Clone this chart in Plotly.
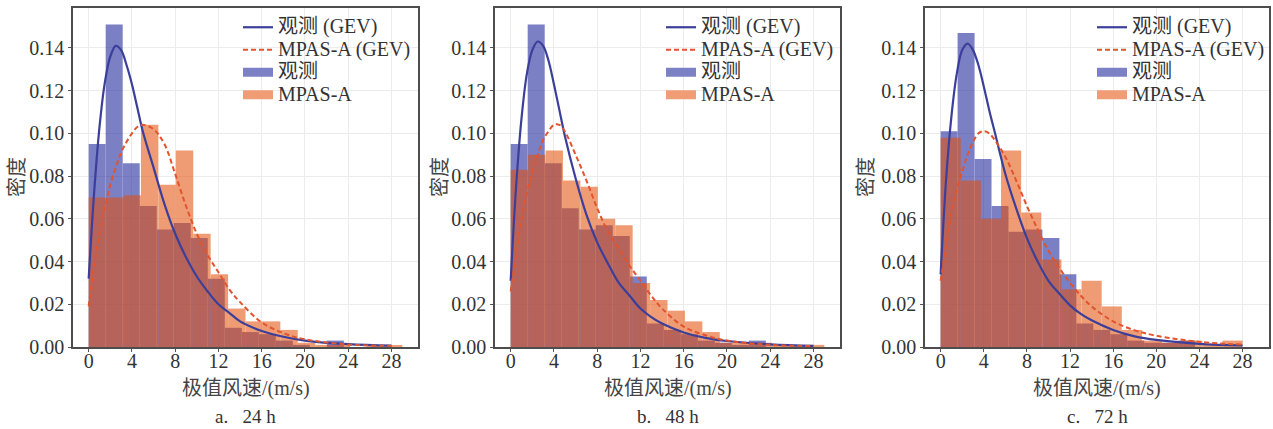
import numpy as np
import plotly.graph_objects as go

# ---------------- data ----------------
panel_captions = ["a.   24 h", "b.   48 h", "c.   72 h"]
x_ticks = [0, 4, 8, 12, 16, 20, 24, 28]
y_ticks = [0.00, 0.02, 0.04, 0.06, 0.08, 0.10, 0.12, 0.14]

# histogram bin widths (m/s)
obs_bin_width = [1.573, 1.573, 1.573]
mpas_bin_width = [29.0 / 18, 29.0 / 18, 28.0 / 15]

# observed densities (观测)
obs_density_a = [0.095, 0.151, 0.086, 0.066, 0.055, 0.058, 0.051, 0.032, 0.009, 0.007, 0.006, 0.003, 0.001, 0.000, 0.003]
obs_density_b = [0.095, 0.151, 0.086, 0.065, 0.055, 0.057, 0.052, 0.033, 0.011, 0.008, 0.006, 0.003, 0.002, 0.001, 0.003]
obs_density_c = [0.101, 0.147, 0.088, 0.066, 0.054, 0.055, 0.051, 0.034, 0.011, 0.008, 0.006, 0.003, 0.002, 0.002, 0.003]

# MPAS-A densities
mpas_density_a = [0.070, 0.070, 0.071, 0.104, 0.076, 0.092, 0.053, 0.034, 0.018, 0.012, 0.012, 0.008, 0.002, 0.001, 0.001, 0.000, 0.0005, 0.0005]
mpas_density_b = [0.083, 0.090, 0.092, 0.078, 0.075, 0.060, 0.057, 0.030, 0.022, 0.017, 0.012, 0.007, 0.002, 0.002, 0.002, 0.001, 0.001, 0.001]
mpas_density_c = [0.098, 0.078, 0.060, 0.092, 0.063, 0.041, 0.027, 0.031, 0.019, 0.008, 0.003, 0.002, 0.003, 0.001, 0.003]

# GEV fitted curves
gev_x = [0, 0.5, 1, 1.5, 2, 2.5, 3, 3.5, 4, 4.5, 5, 6, 7, 8, 9, 10, 11, 12, 13, 14, 16, 18, 20, 24, 28]
gev_obs_a = [0.032, 0.072, 0.103, 0.124, 0.136, 0.141, 0.139, 0.132, 0.123, 0.112, 0.101, 0.084, 0.067, 0.053, 0.042, 0.033, 0.026, 0.020, 0.016, 0.012, 0.0075, 0.0048, 0.0030, 0.0013, 0.0006]
gev_mpas_a = [0.019, 0.038, 0.053, 0.065, 0.076, 0.084, 0.091, 0.096, 0.100, 0.103, 0.104, 0.102, 0.095, 0.081, 0.066, 0.053, 0.043, 0.035, 0.027, 0.021, 0.0115, 0.0065, 0.0036, 0.0012, 0.0005]
gev_obs_b = [0.031, 0.075, 0.107, 0.128, 0.139, 0.143, 0.141, 0.134, 0.123, 0.111, 0.099, 0.079, 0.062, 0.049, 0.039, 0.030, 0.024, 0.018, 0.014, 0.011, 0.0068, 0.0043, 0.0028, 0.0012, 0.0005]
gev_mpas_b = [0.026, 0.043, 0.060, 0.072, 0.082, 0.090, 0.097, 0.101, 0.104, 0.104, 0.101, 0.090, 0.078, 0.065, 0.054, 0.046, 0.038, 0.031, 0.024, 0.018, 0.0095, 0.0055, 0.0030, 0.0010, 0.0004]
gev_obs_c = [0.034, 0.078, 0.108, 0.128, 0.139, 0.142, 0.139, 0.132, 0.122, 0.111, 0.101, 0.081, 0.065, 0.051, 0.040, 0.031, 0.025, 0.0195, 0.0155, 0.0125, 0.008, 0.005, 0.0033, 0.0015, 0.0007]
gev_mpas_c = [0.031, 0.047, 0.063, 0.074, 0.082, 0.090, 0.096, 0.100, 0.101, 0.100, 0.097, 0.089, 0.078, 0.066, 0.055, 0.045, 0.037, 0.030, 0.024, 0.019, 0.012, 0.0078, 0.0053, 0.0024, 0.0011]

obs_density = [obs_density_a, obs_density_b, obs_density_c]
mpas_density = [mpas_density_a, mpas_density_b, mpas_density_c]
gev_obs = [gev_obs_a, gev_obs_b, gev_obs_c]
gev_mpas = [gev_mpas_a, gev_mpas_b, gev_mpas_c]

legend_names = ["观测 (GEV)", "MPAS-A (GEV)", "观测", "MPAS-A"]

# ---------------- style ----------------
W, H = 1273, 429
FONT = "Liberation Serif, 'Noto Sans CJK SC', serif"
BLUE_BAR = "rgb(37,43,157)"
ORANGE_BAR = "rgb(228,80,10)"
BLUE_LINE = "#3b3f99"
ORANGE_LINE = "#e0542e"
TEXT = "#333333"

ax_px = [(73, 418), (495, 840), (925, 1269)]
top_px, bot_px = 8, 347
legend_px = [238, 661, 1092]
ylabel_px = [17, 440, 866]


def big(s):
    return '<span style="font-size:20px">' + s + '</span>'


fig = go.Figure()
layout = dict(
    width=W, height=H, margin=dict(l=0, r=0, t=0, b=0, autoexpand=False),
    paper_bgcolor="white", plot_bgcolor="white",
    barmode="overlay", font=dict(family=FONT, size=19, color=TEXT),
    showlegend=True, annotations=[],
)

for i in range(3):
    sfx = "" if i == 0 else str(i + 1)
    xa, ya = "x" + sfx, "y" + sfx
    lg = "legend" + sfx
    ob = obs_bin_width[i]
    mb = mpas_bin_width[i]
    obs_left = np.arange(len(obs_density[i])) * ob
    mpas_left = np.arange(len(mpas_density[i])) * mb

    fig.add_trace(go.Bar(x=obs_left, y=obs_density[i], width=ob, offset=0,
                         marker=dict(color=BLUE_BAR, line=dict(width=0)), opacity=0.6,
                         xaxis=xa, yaxis=ya, legend=lg, legendgroup=f"obs{i}",
                         showlegend=False, name=legend_names[2]))
    fig.add_trace(go.Bar(x=mpas_left, y=mpas_density[i], width=mb, offset=0,
                         marker=dict(color=ORANGE_BAR, line=dict(width=0)), opacity=0.56,
                         xaxis=xa, yaxis=ya, legend=lg, legendgroup=f"mpas{i}",
                         showlegend=False, name=legend_names[3]))
    fig.add_trace(go.Scatter(x=gev_x, y=gev_obs[i], mode="lines",
                             line=dict(color=BLUE_LINE, width=2.2, shape="spline"),
                             xaxis=xa, yaxis=ya, legend=lg, legendrank=1, name=big(legend_names[0])))
    fig.add_trace(go.Scatter(x=gev_x, y=gev_mpas[i], mode="lines",
                             line=dict(color=ORANGE_LINE, width=2, dash="5px,3px", shape="spline"),
                             xaxis=xa, yaxis=ya, legend=lg, legendrank=2, name=big(legend_names[1])))
    # legend patches for histograms
    fig.add_trace(go.Scatter(x=[None], y=[None], mode="lines",
                             line=dict(color="rgb(124,128,196)", width=9),
                             xaxis=xa, yaxis=ya, legend=lg, legendrank=3,
                             legendgroup=f"obs{i}", name=big(legend_names[2])))
    fig.add_trace(go.Scatter(x=[None], y=[None], mode="lines",
                             line=dict(color="rgb(240,157,118)", width=9),
                             xaxis=xa, yaxis=ya, legend=lg, legendrank=4,
                             legendgroup=f"mpas{i}", name=big(legend_names[3])))

    x0, x1 = ax_px[i]
    axis_common = dict(showline=True, mirror=True, linecolor="#4d4d4d", linewidth=1.5,
                       showgrid=True, gridcolor="#ececec", gridwidth=1, zeroline=False,
                       ticks="outside", ticklen=3, tickcolor="#555", tickwidth=1,
                       tickfont=dict(family=FONT, size=20, color=TEXT))
    layout["xaxis" + sfx] = dict(axis_common, domain=[x0 / W, x1 / W], anchor=ya,
                                 range=[-1.45, 30.45], tickvals=x_ticks,
                                 ticklabelstandoff=-8)
    layout["yaxis" + sfx] = dict(axis_common, domain=[1 - bot_px / H, 1 - top_px / H], anchor=xa,
                                 range=[0, 0.1587], tickvals=y_ticks, tickformat=".2f")
    layout[lg] = dict(x=legend_px[i] / W, y=1 - 11 / H, xanchor="left", yanchor="top",
                      bgcolor="rgba(0,0,0,0)", borderwidth=0,
                      font=dict(family=FONT, size=15, color=TEXT),
                      tracegroupgap=0, itemwidth=30, traceorder="normal")
    cx = (x0 + x1) / 2 / W
    layout["annotations"] += [
        dict(text="极值风速/(m/s)", x=cx, y=1 - 388 / H, xref="paper", yref="paper",
             showarrow=False, xanchor="center", yanchor="middle",
             font=dict(family=FONT, size=20, color="#444")),
        dict(text=panel_captions[i], x=cx, y=1 - 416 / H, xref="paper", yref="paper",
             showarrow=False, xanchor="center", yanchor="middle",
             font=dict(family=FONT, size=19, color=TEXT)),
        dict(text="密度", x=ylabel_px[i] / W, y=1 - 177 / H, xref="paper", yref="paper",
             showarrow=False, xanchor="center", yanchor="middle", textangle=-90,
             font=dict(family=FONT, size=20, color="#444")),
    ]

fig.update_layout(**layout)
fig.write_html("out.html", config={"displayModeBar": False},
               post_script="document.body.style.margin='0px';")
